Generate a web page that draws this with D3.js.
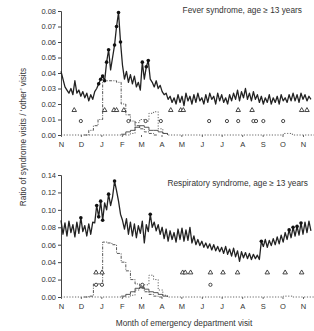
<!DOCTYPE html>
<html>
<head>
<meta charset="utf-8">
<script src="https://cdn.jsdelivr.net/npm/d3@7"></script>
<style>
  body { margin: 0; background: #fff; }
  svg { display: block; font-family: "Liberation Sans", Arial, sans-serif; }
</style>
</head>
<body>
<svg id="chart" width="314" height="331"></svg>
<script>
// month letters on the x axis (Nov 2003 .. Nov 2004)
const monthLabels = ["N", "D", "J", "F", "M", "A", "M", "J", "J", "A", "S", "O", "N"];

// ratio series, one value every 3 days from 1 Nov 2003
const feverRatio = [
  0.041, 0.036, 0.031, 0.029, 0.027, 0.030, 0.026, 0.035, 0.027, 0.029, 0.025,
  0.028, 0.024, 0.027, 0.022, 0.026, 0.023, 0.028,
  0.030, 0.033, 0.036, 0.038, 0.035,
  0.047, 0.055, 0.042, 0.050, 0.058, 0.070, 0.079, 0.060, 0.045, 0.036, 0.041,
  0.034, 0.039, 0.033, 0.038, 0.031, 0.034, 0.029, 0.047, 0.036, 0.044, 0.048,
  0.036, 0.034, 0.031, 0.035, 0.030, 0.032, 0.028, 0.026, 0.027, 0.023, 0.025, 0.021,
  0.024, 0.020, 0.026, 0.021, 0.025, 0.019, 0.027, 0.022, 0.025, 0.020,
  0.026, 0.021, 0.027, 0.022, 0.024, 0.020, 0.026, 0.021, 0.027, 0.023,
  0.025, 0.020, 0.027, 0.022, 0.026, 0.021, 0.024, 0.020, 0.026, 0.022,
  0.027, 0.023, 0.029, 0.022, 0.028, 0.024, 0.030, 0.023, 0.027, 0.022,
  0.028, 0.023, 0.026, 0.021, 0.025, 0.020, 0.024, 0.021, 0.026, 0.020,
  0.024, 0.021, 0.025, 0.020, 0.026, 0.022, 0.024, 0.021, 0.026, 0.022,
  0.027, 0.022, 0.026, 0.021, 0.027, 0.023, 0.026, 0.022, 0.025, 0.023
];
const respRatio = [
  0.088, 0.072, 0.085, 0.070, 0.087, 0.074, 0.083, 0.069, 0.086, 0.073, 0.091,
  0.075, 0.082, 0.070, 0.084, 0.072, 0.086, 0.085, 0.105, 0.092,
  0.110, 0.088, 0.108, 0.100, 0.118, 0.105, 0.115, 0.133, 0.122, 0.110,
  0.095, 0.088, 0.078, 0.090, 0.072, 0.086, 0.070, 0.084, 0.068, 0.082,
  0.073, 0.087, 0.062, 0.083, 0.075, 0.095, 0.080, 0.086, 0.076, 0.083,
  0.072, 0.080, 0.067, 0.078, 0.064, 0.076, 0.066, 0.074, 0.063, 0.078,
  0.066, 0.079, 0.064, 0.077, 0.065, 0.080, 0.062, 0.070, 0.060, 0.066,
  0.059, 0.064, 0.057, 0.062, 0.056, 0.061, 0.054, 0.060, 0.053, 0.058,
  0.052, 0.057, 0.050, 0.058, 0.049, 0.055, 0.047, 0.056, 0.046, 0.053,
  0.041, 0.052, 0.045, 0.051, 0.044, 0.050, 0.043, 0.049, 0.044, 0.048,
  0.043, 0.064, 0.058, 0.066, 0.057, 0.065, 0.059, 0.067, 0.060, 0.069,
  0.061, 0.071, 0.063, 0.074, 0.066, 0.077, 0.068, 0.080, 0.070, 0.081,
  0.071, 0.085, 0.072, 0.086, 0.074, 0.087, 0.076
];

// points of the ratio series flagged with a dot (indices into the arrays above)
const feverFlagIdx = [19, 20, 21, 22, 23, 24, 27, 28, 29, 30, 41, 43, 44];
const respFlagIdx = [10, 18, 19, 20, 21, 24, 27, 45, 101, 115, 117, 119, 121];

// weekly lab counts (ratio scale), one value per week from 1 Nov 2003
const feverFlu = [0, 0, 0, 0, 0, 0, 0.003, 0.006, 0.010, 0.035, 0.035, 0.035, 0.034,
  0.020, 0.013, 0.009, 0.006, 0.004, 0.002, 0.001, 0, 0];
const feverRsv = [0, 0, 0, 0, 0, 0, 0, 0, 0, 0, 0, 0, 0, 0, 0, 0.001, 0.008, 0.010,
  0.009, 0.014, 0.015, 0.004, 0.001, 0, 0, 0, 0, 0, 0, 0, 0, 0, 0, 0, 0, 0, 0, 0, 0,
  0, 0, 0, 0, 0, 0, 0, 0, 0, 0.001, 0.001, 0, 0, 0, 0, 0, 0];
const feverOther = [0.0005, 0.002, 0.003, 0.005, 0.006, 0.005, 0.003, 0.003, 0.002, 0.001, 0];
const respFlu = [0, 0, 0, 0, 0, 0, 0.001, 0.015, 0.015, 0.063, 0.062, 0.060, 0.050,
  0.040, 0.030, 0.020, 0.015, 0.010, 0.006, 0.003, 0.001, 0, 0];
const respRsv = [0, 0, 0, 0, 0, 0, 0, 0, 0, 0, 0, 0, 0, 0, 0, 0.002, 0.008, 0.012,
  0.014, 0.025, 0.020, 0.008, 0.002, 0, 0, 0, 0, 0, 0, 0, 0, 0, 0, 0, 0, 0, 0, 0, 0,
  0, 0, 0, 0, 0, 0, 0, 0, 0, 0.001, 0.001, 0, 0, 0, 0, 0, 0];
const respOther = [0.001, 0.003, 0.006, 0.010, 0.011, 0.009, 0.006, 0.005, 0.003, 0.001, 0];
const otherStartWeek = 13;

// alert days (days after 1 Nov 2003)
const feverTriangleDays = [20, 66, 80, 84, 95, 166, 181, 185, 268, 289, 364, 372];
const feverCircleDays = [30, 102, 128, 151, 224, 251, 268, 291, 295, 306, 336];
const respTriangleDays = [53, 62, 184, 188, 196, 226, 245, 267, 312, 339, 364];
const respCircleDays = [53, 62, 123, 226];

const start = new Date(2003, 10, 1);
const dayToDate = d => d3.timeDay.offset(start, d);

const svg = d3.select("#chart");
const x = d3.scaleTime().domain([start, new Date(2004, 10, 1)]).range([61, 303]);
const monthTicks = d3.timeMonth.range(start, new Date(2004, 10, 2));

function panel(cfg) {
  const y = d3.scaleLinear().domain([0, cfg.max]).range([cfg.bottom, cfg.top]);
  const g = svg.append("g");

  // y axis
  const yAxis = d3.axisLeft(y).tickValues(d3.range(0, cfg.max + 1e-9, cfg.step))
    .tickFormat(d3.format(".2f")).tickSize(3).tickPadding(2);
  const ya = g.append("g").attr("transform", "translate(61,0)").call(yAxis);
  ya.select(".domain").attr("stroke", "#444");
  ya.selectAll(".tick line").attr("stroke", "#444");
  ya.selectAll("text").attr("font-size", 7.5).attr("fill", "#333");

  // x axis: ticks only, labels
  const xAxis = d3.axisBottom(x).tickValues(monthTicks)
    .tickFormat((d, i) => monthLabels[i]).tickSize(2).tickPadding(5);
  const xa = g.append("g").attr("transform", `translate(0,${cfg.bottom})`).call(xAxis);
  xa.select(".domain").remove();
  xa.selectAll(".tick line").attr("stroke", "#666");
  xa.selectAll("text").attr("font-size", 7.5).attr("fill", "#333");

  const week = k => d3.timeDay.offset(start, 7 * k);
  const step = d3.line().curve(d3.curveStepAfter)
    .x(d => x(d[0])).y(d => y(d[1]));

  // RSV (dotted, runs along the baseline)
  g.append("path")
    .datum(cfg.rsv.map((v, k) => [week(k), v]))
    .attr("d", step).attr("fill", "none")
    .attr("stroke", "#555").attr("stroke-width", 0.9).attr("stroke-dasharray", "1.2,1.6");

  // other virus (thin solid)
  g.append("path")
    .datum(cfg.other.map((v, k) => [week(k + otherStartWeek), v]))
    .attr("d", step).attr("fill", "none")
    .attr("stroke", "#444").attr("stroke-width", 0.9);

  // influenza (dash-dot)
  g.append("path")
    .datum(cfg.flu.map((v, k) => [week(k), v]).filter((d, k) => k >= 5))
    .attr("d", step).attr("fill", "none")
    .attr("stroke", "#444").attr("stroke-width", 0.9).attr("stroke-dasharray", "3,1.3,1,1.3");

  // alert markers
  const tri = d3.symbol().type(d3.symbolTriangle).size(9);
  g.selectAll(null).data(cfg.tri).join("path")
    .attr("d", tri)
    .attr("transform", d => `translate(${x(dayToDate(d))},${y(cfg.triY)})`)
    .attr("fill", "#fff").attr("stroke", "#333").attr("stroke-width", 0.9);
  g.selectAll(null).data(cfg.circ).join("circle")
    .attr("cx", d => x(dayToDate(d))).attr("cy", y(cfg.circY)).attr("r", 1.6)
    .attr("fill", "#fff").attr("stroke", "#333").attr("stroke-width", 0.9);

  // ratio series
  const pts = cfg.ratio.map((v, i) => [dayToDate(3 * i), v]);
  g.append("path")
    .datum(pts)
    .attr("d", d3.line().x(d => x(d[0])).y(d => y(d[1])))
    .attr("fill", "none").attr("stroke", "#222").attr("stroke-width", 1.3)
    .attr("stroke-linejoin", "round");
  g.selectAll(null).data(cfg.flags).join("circle")
    .attr("cx", i => x(pts[i][0])).attr("cy", i => y(pts[i][1])).attr("r", 1.8)
    .attr("fill", "#111");

  g.append("text")
    .attr("x", cfg.titleX).attr("y", cfg.titleY).attr("text-anchor", "end")
    .attr("font-size", 8.3).attr("fill", "#333").text(cfg.title);
}

panel({
  max: 0.08, step: 0.01, top: 11, bottom: 135,
  ratio: feverRatio, flags: feverFlagIdx,
  flu: feverFlu, rsv: feverRsv, other: feverOther,
  tri: feverTriangleDays, triY: 0.016, circ: feverCircleDays, circY: 0.009,
  title: "Fever syndrome, age \u2265 13 years", titleX: 302, titleY: 13
});

panel({
  max: 0.14, step: 0.02, top: 175, bottom: 297,
  ratio: respRatio, flags: respFlagIdx,
  flu: respFlu, rsv: respRsv, other: respOther,
  tri: respTriangleDays, triY: 0.028, circ: respCircleDays, circY: 0.014,
  title: "Respiratory syndrome, age \u2265 13 years", titleX: 308, titleY: 186
});

svg.append("text")
  .attr("x", 184).attr("y", 326).attr("text-anchor", "middle")
  .attr("font-size", 8.3).attr("fill", "#333")
  .text("Month of emergency department visit");

svg.append("text")
  .attr("transform", "translate(26,137) rotate(-90)").attr("text-anchor", "middle")
  .attr("font-size", 8.3).attr("fill", "#333")
  .text("Ratio of syndrome visits / \u2018other\u2019 visits");
</script>
</body>
</html>
